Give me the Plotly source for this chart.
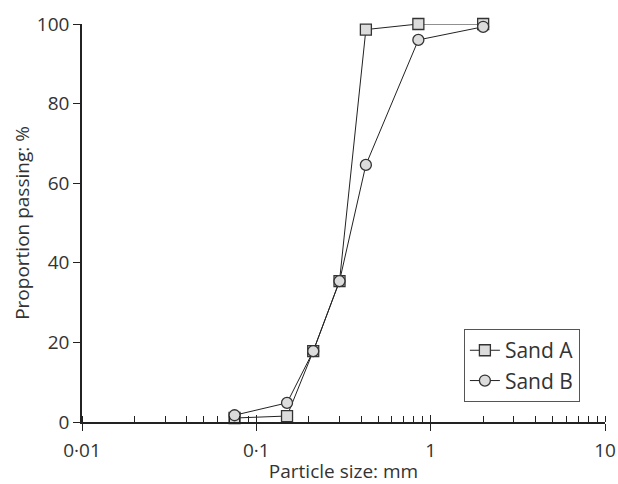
import plotly.graph_objects as go

sizes_mm = [0.075, 0.15, 0.212, 0.3, 0.425, 0.85, 2.0]
sand_a = [1.0, 1.5, 17.8, 35.4, 98.6, 100.0, 100.0]
sand_b = [1.7, 4.8, 17.8, 35.4, 64.6, 96.0, 99.3]
x_tickvals = [0.01, 0.1, 1, 10]
x_ticktext = ["0·01", "0·1", "1", "10"]
y_tickvals = [0, 20, 40, 60, 80, 100]

FONT = "Open Sans, Noto Sans, sans-serif"
TXT = "#333333"
LINE = "#222222"

fig = go.Figure()
fig.add_trace(go.Scatter(
    x=sizes_mm, y=sand_a, name="Sand A", mode="lines+markers",
    line=dict(color=LINE, width=1),
    marker=dict(symbol="square", size=11, color="#dcdcdc", line=dict(color="#333333", width=1.3)),
    cliponaxis=False,
))
fig.add_trace(go.Scatter(
    x=sizes_mm, y=sand_b, name="Sand B", mode="lines+markers",
    line=dict(color=LINE, width=1),
    marker=dict(symbol="circle", size=11, color="#dcdcdc", line=dict(color="#333333", width=1.3)),
    cliponaxis=False,
))
# invisible trace on overlay axis to carry inside decade ticks
fig.add_trace(go.Scatter(x=[0.01, 10], y=[0, 0], xaxis="x2", mode="markers",
                         marker=dict(opacity=0), showlegend=False, hoverinfo="skip"))

fig.update_layout(
    width=618, height=484,
    margin=dict(l=82, r=13, t=24, b=62, autoexpand=False),
    paper_bgcolor="white", plot_bgcolor="white",
    font=dict(family=FONT, size=19, color=TXT),
    showlegend=True,
    legend=dict(
        x=0.952, y=0.05, xanchor="right", yanchor="bottom",
        bordercolor="#555555", borderwidth=1, bgcolor="white",
        font=dict(family=FONT, size=21, color=TXT),
        itemwidth=30, tracegroupgap=0,
    ),
    xaxis=dict(
        type="log", range=[-2, 1], automargin=False,
        tickvals=x_tickvals, ticktext=x_ticktext,
        ticks="outside", ticklen=7, tickwidth=1.3, tickcolor=LINE,
        ticklabelstandoff=3,
        showline=True, linecolor=LINE, linewidth=1.5,
        showgrid=False, zeroline=False,
        minor=dict(ticks="inside", ticklen=6, tickwidth=1.2, tickcolor=LINE,
                   dtick="D1", showgrid=False),
        tickfont=dict(size=19, color=TXT),
        title=dict(text="Particle size: mm", font=dict(size=19, color=TXT), standoff=0),
    ),
    xaxis2=dict(
        type="log", range=[-2, 1], overlaying="x", anchor="y", automargin=False,
        tickvals=x_tickvals, ticktext=["", "", "", ""],
        ticks="inside", ticklen=7, tickwidth=1.3, tickcolor=LINE,
        showline=False, showgrid=False, zeroline=False, showticklabels=False,
        side="bottom",
    ),
    yaxis=dict(
        range=[0, 100], tickvals=y_tickvals, automargin=False,
        ticks="outside", ticklen=7, tickwidth=1.3, tickcolor=LINE,
        showline=True, linecolor=LINE, linewidth=1.5,
        showgrid=False, zeroline=False,
        tickfont=dict(size=19, color=TXT),
        title=dict(text="Proportion passing: %", font=dict(size=19, color=TXT), standoff=2),
    ),
)

fig.write_html(
    "out.html",
    config={"displayModeBar": False},
    post_script="document.body.style.margin='0';document.body.style.overflow='hidden';",
)
